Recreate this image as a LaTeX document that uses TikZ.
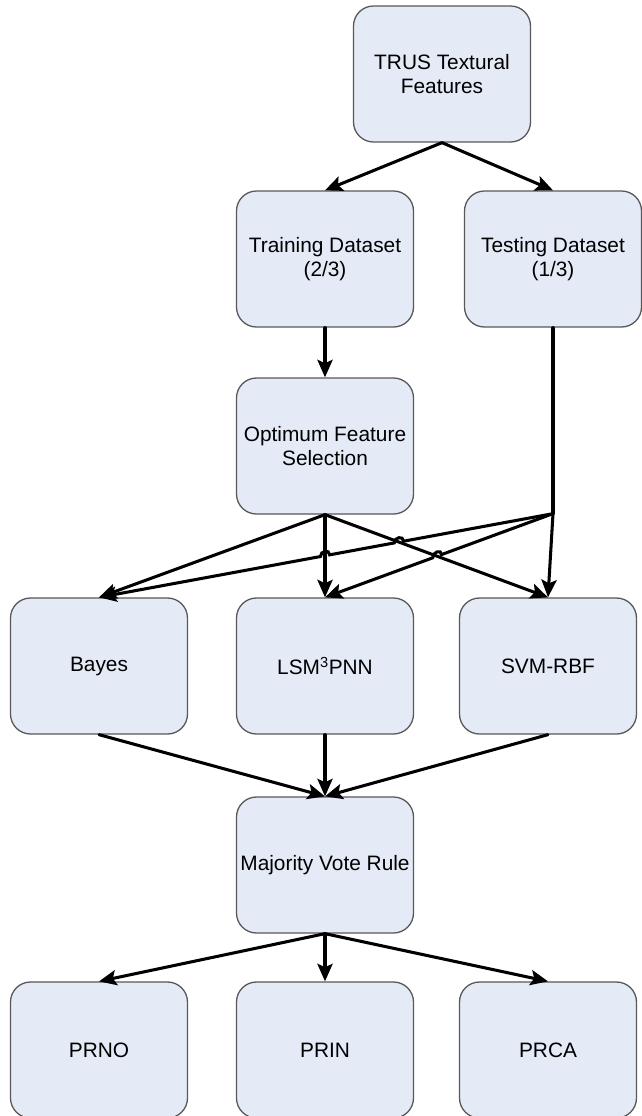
\documentclass[tikz,border=0pt]{standalone}
\usepackage{fontspec}
\setmainfont{Liberation Sans}
\usetikzlibrary{arrows.meta,calc,intersections}
\definecolor{boxfill}{RGB}{228,235,247}
\definecolor{boxline}{RGB}{88,88,88}
\tikzset{
  stage/.style={draw=boxline, line width=1.1pt, fill=boxfill,
    rounded corners=0.6cm, minimum width=5.31cm, minimum height=4.08cm,
    align=center, inner sep=2pt, font=\fontsize{17.8}{20.5}\selectfont},
  flow/.style={line width=2.6pt, line cap=round,
    -{Stealth[length=15pt,width=13pt,inset=3pt]}},
  link/.style={line width=2.6pt, line cap=round}
}
\begin{document}
\begin{tikzpicture}[x=0.03cm,y=-0.03cm]
\useasboundingbox (0,0) rectangle (642,1116);

% boxes
\node[stage] (trus)  at (442,74)   {TRUS Textural\\Features};
\node[stage] (train) at (325,259)  {Training Dataset\\(2/3)};
\node[stage] (test)  at (553,259)  {Testing Dataset\\(1/3)};
\node[stage] (opt)   at (325,446)  {Optimum Feature\\Selection};
\node[stage] (bay)   at (99,666)   {Bayes};
\node[stage] (lsm)   at (325,666)  {LSM\textsuperscript{3}PNN};
\node[stage] (svm)   at (548,666)  {SVM-RBF};
\node[stage] (vote)  at (325,865)  {Majority Vote Rule};
\node[stage] (prno)  at (99,1050)  {PRNO};
\node[stage] (prin)  at (325,1050) {PRIN};
\node[stage] (prca)  at (548,1050) {PRCA};

% split of the data set
\draw[flow] (trus.south) -- (train.north);
\draw[flow] (trus.south) -- (test.north);
\draw[flow] (train.south) -- (opt.north);

% selected features to the three classifiers
\draw[flow] (opt.south) -- (bay.north);
\draw[flow] (opt.south) -- (lsm.north);
\draw[flow] (opt.south) -- (svm.north);

% test set branches out at a junction
\coordinate (J) at ($(test.south)+(0,186)$);
\draw[link] (test.south) -- (J);

\path[name path=oL] (opt.south) -- (lsm.north);
\path[name path=oS] (opt.south) -- (svm.north);
\path[name path=jB] (J) -- (bay.north);
\path[name path=jL] (J) -- (lsm.north);
\path[name intersections={of=jB and oL, by=xa}];
\path[name intersections={of=jB and oS, by=xb}];
\path[name intersections={of=jL and oS, by=xc}];

% line hops where the test-set lines cross
\draw[flow] (J) -- ($(xb)!4pt!(J)$)
  .. controls +(0pt,5pt) and +(0pt,5pt) .. ($(xb)!-4pt!(J)$)
  -- ($(xa)!4pt!(J)$)
  .. controls +(0pt,5pt) and +(0pt,5pt) .. ($(xa)!-4pt!(J)$)
  -- (bay.north);
\draw[flow] (J) -- ($(xc)!4pt!(J)$)
  .. controls +(0pt,5pt) and +(0pt,5pt) .. ($(xc)!-4pt!(J)$)
  -- (lsm.north);
\draw[flow] (J) -- (svm.north);

% classifiers into the vote
\draw[flow] (bay.south) -- (vote.north);
\draw[flow] (lsm.south) -- (vote.north);
\draw[flow] (svm.south) -- (vote.north);

% vote outcomes
\draw[flow] (vote.south) -- (prno.north);
\draw[flow] (vote.south) -- (prin.north);
\draw[flow] (vote.south) -- (prca.north);
\end{tikzpicture}
\end{document}
